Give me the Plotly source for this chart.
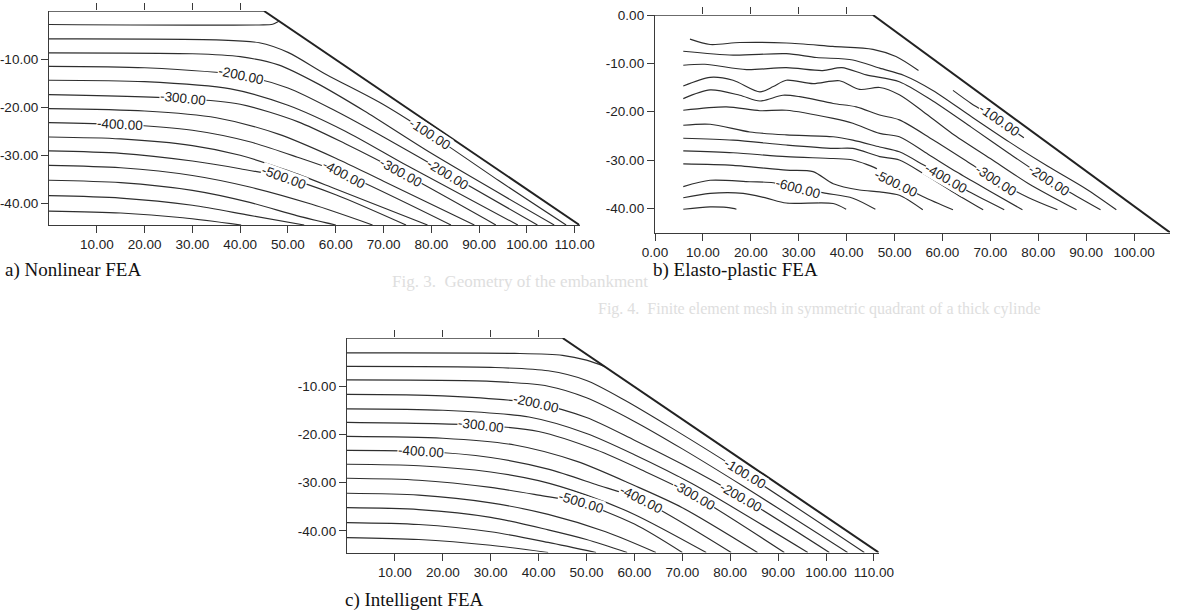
import plotly.graph_objects as go

W, H = 1179, 611

# ---------------- geometry (embankment outlines) ----------------
A_TOP_X, A_TOP_Y = [0, 45], [0, 0]
A_SLOPE_X, A_SLOPE_Y = [45, 111], [0, -44.5]
B_TOP_X, B_TOP_Y = [0, 45.5], [0, 0]
B_SLOPE_X, B_SLOPE_Y = [45.5, 107.5], [0, -45]
C_TOP_X, C_TOP_Y = [0, 45], [0, 0]
C_SLOPE_X, C_SLOPE_Y = [45, 111], [0, -44.5]

# ---------------- a) Nonlinear FEA contour lines ----------------
A_X = [
    [0, 44, 46.8, 48.2],
    [0, 35, 44, 50, 58, 69.5, 79.8, 94, 108.2],
    [0, 30, 40, 48, 56, 66, 80, 105.7],
    [0, 20, 40.2, 50, 60, 70, 83.4, 102.2],
    [0, 20, 38, 50, 62, 75, 98.1],
    [0, 28, 40, 52, 62, 73.6, 93.5],
    [0, 20, 35, 48, 60, 70, 89],
    [0, 15, 30, 42, 52, 61.8, 84.1],
    [0, 15, 30, 40, 50, 60, 79.2],
    [0, 15, 30, 40, 49.2, 60, 74.7],
    [0, 15, 30, 42, 55, 67.7],
    [0, 15, 30, 42, 52, 60],
    [0, 15, 30, 42, 53.4],
    [0, 15, 28, 40.2],
]
A_Y = [
    [-2.8, -2.9, -2.75, -2.1],
    [-5.8, -6.0, -6.6, -8.6, -13.2, -19.2, -25.6, -35.2, -44.5],
    [-8.7, -8.9, -9.5, -11.2, -15.0, -20.8, -29.6, -44.5],
    [-11.5, -11.8, -13.4, -16.0, -20.8, -26.2, -33.8, -44.5],
    [-14.4, -14.7, -16.2, -19.6, -25.0, -32.2, -44.5],
    [-17.4, -18.2, -19.4, -23.0, -27.6, -33.5, -44.5],
    [-20.3, -20.8, -22.2, -25.6, -30.6, -35.4, -44.5],
    [-23.2, -23.6, -24.8, -27.2, -30.4, -33.9, -44.5],
    [-26.2, -26.6, -28.0, -30.0, -33.2, -37.0, -44.5],
    [-29.1, -29.6, -31.2, -32.8, -34.6, -38.2, -44.5],
    [-32.1, -32.6, -34.2, -36.6, -40.2, -44.5],
    [-35.2, -35.7, -37.3, -39.8, -42.6, -44.5],
    [-38.4, -38.9, -40.4, -42.5, -44.5],
    [-41.6, -42.0, -43.0, -44.5],
]
A_LABEL_TEXT = ["-100.00", "-200.00", "-300.00", "-400.00", "-500.00",
                "-200.00", "-300.00", "-400.00"]
A_LABEL_X = [79.8, 83.4, 73.6, 61.8, 49.2, 40.2, 28.1, 14.9]
A_LABEL_Y = [-25.6, -33.9, -33.5, -33.9, -34.6, -13.5, -18.2, -23.6]
A_LABEL_ANGLE = [33, 32, 29, 28, 20, 12, 6, 3]

# ---------------- b) Elasto-plastic FEA contour lines ----------------
B_X = [
    [7.3, 11.5, 17.7, 27.4, 37.1, 45.5, 50.3, 55.0],
    [5.9, 16.3, 27.4, 33.7, 41.3, 46.9, 52, 58, 66, 74, 82, 90, 96.3],
    [5.9, 10.4, 19.1, 27.4, 35, 39, 44.1, 51, 58, 66, 74, 82.3, 88, 93],
    [5.9, 11.5, 16.3, 21.9, 24.7, 27.4, 33.0, 38.5, 42.7, 46.9, 51.0, 56, 62, 70, 78, 88],
    [5.9, 11.5, 17.7, 21.9, 26.7, 30.2, 37.2, 42.0, 46.9, 51.0, 58, 65, 71.2, 78, 84],
    [5.9, 14.9, 21.9, 27.4, 37.2, 41.3, 46.9, 51.0, 57, 63, 70, 76.7],
    [5.9, 11.5, 19.8, 27.4, 37.2, 41.3, 46.9, 51.0, 56, 60.8, 66, 72.9],
    [5.9, 16.3, 27.4, 37.2, 41.3, 46.9, 51.0, 56, 62, 68.5],
    [5.9, 16.3, 27.4, 37.2, 41.3, 46.9, 50.3, 56, 62.2],
    [5.9, 16.3, 27.4, 33.0, 37.2, 42.7, 46.9, 51.0, 55.9],
    [5.9, 11.5, 19.8, 24.7, 29.9, 35.8, 41.3, 46.0],
    [5.9, 11.5, 18.4, 23.3, 27.4, 37.2, 39.9],
    [5.9, 11.5, 16.3, 17.0],
    [62.2, 66, 71.9, 77],
]
B_Y = [
    [-5.0, -6.1, -5.7, -5.8, -6.5, -7.1, -8.6, -11.5],
    [-7.5, -8.3, -8.0, -8.8, -9.3, -11.0, -12.5, -15.6, -21.0, -26.3, -31.3, -36.0, -40.3],
    [-10.4, -10.2, -11.3, -10.9, -11.5, -10.9, -12.4, -13.8, -17.8, -23.2, -28.7, -34.2, -37.5, -40.3],
    [-14.7, -12.9, -13.5, -15.9, -14.8, -13.5, -14.2, -13.6, -15.4, -15.0, -16.5, -20.0, -24.5, -29.7, -34.9, -40.3],
    [-17.3, -15.5, -16.6, -17.8, -16.6, -16.9, -18.3, -19.0, -20.7, -21.7, -25.8, -30.2, -34.2, -37.8, -40.3],
    [-19.7, -19.0, -19.8, -19.7, -21.4, -22.4, -24.5, -25.2, -28.8, -32.5, -36.5, -40.3],
    [-22.8, -22.6, -24.2, -24.8, -25.2, -25.9, -27.3, -28.3, -31.0, -33.8, -36.8, -40.3],
    [-25.5, -25.9, -26.9, -27.6, -27.6, -29.3, -30.0, -32.8, -36.5, -40.3],
    [-28.1, -28.5, -29.3, -29.7, -30.0, -32.1, -34.6, -37.6, -40.3],
    [-30.8, -31.1, -32.1, -32.4, -34.9, -36.2, -36.6, -37.3, -40.3],
    [-35.5, -34.2, -34.5, -34.7, -35.9, -36.9, -37.9, -40.2],
    [-37.8, -36.9, -36.9, -37.9, -38.9, -39.0, -40.2],
    [-40.2, -39.7, -40.0, -40.2],
    [-15.6, -18.3, -21.9, -25.4],
]
B_LABEL_TEXT = ["-100.00", "-200.00", "-300.00", "-400.00", "-500.00", "-600.00"]
B_LABEL_X = [71.9, 82.3, 71.2, 60.8, 50.3, 29.9]
B_LABEL_Y = [-21.9, -34.2, -34.2, -33.8, -34.8, -35.9]
B_LABEL_ANGLE = [35, 33, 33, 30, 26, 15]

# ---------------- c) Intelligent FEA contour lines ----------------
C_X = [
    [0, 35, 45, 50, 54],
    [0, 30, 42, 50, 58, 68, 83, 108],
    [0, 30, 42, 50, 60, 70, 82.5, 104.5],
    [0, 20, 39.5, 50, 60, 70, 82.3, 100.7],
    [0, 20, 38, 50, 60, 72, 96.2],
    [0, 28, 40, 52, 62, 72.5, 91.3],
    [0, 20, 35, 48, 60, 70, 85.7],
    [0, 15.4, 30, 42, 52, 61.4, 80.2],
    [0, 15, 30, 40, 50, 60, 75],
    [0, 15, 30, 40, 48.9, 60, 70],
    [0, 15, 30, 42, 54, 64.5],
    [0, 15, 30, 42, 50, 58.5],
    [0, 15, 30, 42, 52],
    [0, 15, 30, 42],
]
C_Y = [
    [-3.1, -3.2, -3.6, -4.6, -6.0],
    [-5.9, -6.1, -6.8, -8.8, -12.9, -18.8, -28.1, -44.5],
    [-8.7, -9.0, -10.0, -12.4, -17.3, -23.0, -30.6, -44.5],
    [-11.7, -12.0, -13.6, -16.5, -21.2, -26.2, -33.0, -44.5],
    [-14.7, -15.0, -16.4, -19.8, -24.2, -30.2, -44.5],
    [-17.5, -18.1, -19.4, -23.2, -27.6, -32.7, -44.5],
    [-20.4, -20.8, -22.2, -25.6, -30.6, -35.2, -44.5],
    [-23.3, -23.5, -24.8, -27.2, -30.4, -33.6, -44.5],
    [-26.2, -26.5, -27.8, -29.6, -32.6, -36.6, -44.5],
    [-29.1, -29.5, -31.0, -32.6, -34.2, -38.6, -44.5],
    [-32.2, -32.6, -34.2, -36.6, -40.2, -44.5],
    [-35.2, -35.6, -37.2, -39.8, -41.8, -44.5],
    [-38.3, -38.7, -40.2, -42.4, -44.5],
    [-41.4, -41.8, -43.0, -44.5],
]
C_LABEL_TEXT = ["-200.00", "-300.00", "-400.00", "-500.00",
                "-400.00", "-300.00", "-200.00", "-100.00"]
C_LABEL_X = [39.5, 28.0, 15.4, 48.9, 61.4, 72.5, 82.3, 83.0]
C_LABEL_Y = [-13.6, -18.1, -23.5, -34.2, -33.6, -32.7, -33.0, -28.1]
C_LABEL_ANGLE = [13, 7, 4, 17, 27, 30, 30, 31]

# ---------------- axes ticks ----------------
AC_XTICKS = [10, 20, 30, 40, 50, 60, 70, 80, 90, 100, 110]
AC_XTEXT = ["10.00", "20.00", "30.00", "40.00", "50.00", "60.00", "70.00",
            "80.00", "90.00", "100.00", "110.00"]
AC_YTICKS = [-10, -20, -30, -40]
AC_YTEXT = ["-10.00", "-20.00", "-30.00", "-40.00"]
B_XTICKS = [0, 10, 20, 30, 40, 50, 60, 70, 80, 90, 100]
B_XTEXT = ["0.00", "10.00", "20.00", "30.00", "40.00", "50.00", "60.00",
           "70.00", "80.00", "90.00", "100.00"]
B_YTICKS = [0, -10, -20, -30, -40]
B_YTEXT = ["0.00", "-10.00", "-20.00", "-30.00", "-40.00"]
TOP_TICKS = [10, 20, 30, 40]

CAPTIONS = ["a) Nonlinear FEA", "b) Elasto-plastic FEA", "c) Intelligent FEA"]

# faint show-through captions of the scanned page
GHOST_TEXT = [
    "Fig. 3.  Geometry of the embankment",
    "Fig. 4.  Finite element mesh in symmetric quadrant of a thick cylinde",
]

LINE_COLOR = "#2e2e2e"
FRAME_COLOR = "#3a3a3a"


def px_x(p):
    return p / W


def px_y(p):
    return 1 - p / H


panels = {
    # name: (xaxis, yaxis, topaxis, xdomain px, ydomain px(top,bottom), xrange, yrange)
    "a": ("x", "y", "x4", (49, 579.5), (11, 225), [0, 111], [-44.5, 0]),
    "b": ("x2", "y2", "x5", (655, 1170), (15, 232.5), [0, 107.5], [-45, 0]),
    "c": ("x3", "y3", "x6", (347, 878.7), (338, 552.5), [0, 111], [-44.5, 0]),
}

fig = go.Figure()


def add_lines(xs_list, ys_list, xa, ya):
    for xs, ys in zip(xs_list, ys_list):
        fig.add_trace(go.Scatter(
            x=xs, y=ys, xaxis=xa, yaxis=ya, mode="lines",
            line=dict(color=LINE_COLOR, width=1.15, shape="spline", smoothing=0.8),
            hoverinfo="skip", showlegend=False))


def add_outline(tx, ty, sx, sy, xa, ya):
    fig.add_trace(go.Scatter(x=tx, y=ty, xaxis=xa, yaxis=ya, mode="lines",
                             line=dict(color=FRAME_COLOR, width=1.3),
                             cliponaxis=False, hoverinfo="skip", showlegend=False))
    fig.add_trace(go.Scatter(x=sx, y=sy, xaxis=xa, yaxis=ya, mode="lines",
                             line=dict(color="#222222", width=2.0),
                             cliponaxis=False, hoverinfo="skip", showlegend=False))


add_lines(A_X, A_Y, "x", "y")
add_outline(A_TOP_X, A_TOP_Y, A_SLOPE_X, A_SLOPE_Y, "x", "y")
add_lines(B_X, B_Y, "x2", "y2")
add_outline(B_TOP_X, B_TOP_Y, B_SLOPE_X, B_SLOPE_Y, "x2", "y2")
add_lines(C_X, C_Y, "x3", "y3")
add_outline(C_TOP_X, C_TOP_Y, C_SLOPE_X, C_SLOPE_Y, "x3", "y3")

# invisible traces so that the top tick axes are drawn
for name, (xa, ya, ta, xd, yd, xr, yr) in panels.items():
    fig.add_trace(go.Scatter(x=[xr[0]], y=[yr[0]], xaxis=ta, yaxis=ya, mode="markers",
                             marker=dict(opacity=0), hoverinfo="skip", showlegend=False))

tick_font = dict(family="Liberation Sans, Arial", size=13.5, color="#222222")
layout = dict(width=W, height=H,
              margin=dict(l=0, r=0, t=0, b=0, pad=0, autoexpand=False),
              paper_bgcolor="white", plot_bgcolor="rgba(0,0,0,0)", showlegend=False)

tick_sets = {
    "a": (AC_XTICKS, AC_XTEXT, AC_YTICKS, AC_YTEXT),
    "b": (B_XTICKS, B_XTEXT, B_YTICKS, B_YTEXT),
    "c": (AC_XTICKS, AC_XTEXT, AC_YTICKS, AC_YTEXT),
}

for name, (xa, ya, ta, xd, yd, xr, yr) in panels.items():
    xt, xtt, yt, ytt = tick_sets[name]
    xkey = "xaxis" + xa[1:]
    ykey = "yaxis" + ya[1:]
    tkey = "xaxis" + ta[1:]
    layout[xkey] = dict(domain=[px_x(xd[0]), px_x(xd[1])], range=xr, anchor=ya,
                        showline=True, linecolor=FRAME_COLOR, linewidth=1.3,
                        ticks="outside", ticklen=7, tickwidth=1.1, tickcolor=FRAME_COLOR,
                        tickvals=xt, ticktext=xtt, tickfont=tick_font, automargin=False,
                        showgrid=False, zeroline=False, fixedrange=True)
    layout[ykey] = dict(domain=[px_y(yd[1]), px_y(yd[0])], range=yr, anchor=xa,
                        showline=True, linecolor=FRAME_COLOR, linewidth=1.3,
                        ticks="outside", ticklen=7, tickwidth=1.1, tickcolor=FRAME_COLOR,
                        tickvals=yt, ticktext=ytt, tickfont=tick_font, automargin=False,
                        showgrid=False, zeroline=False, fixedrange=True)
    layout[tkey] = dict(overlaying=xa, side="top", range=xr, anchor=ya,
                        showline=False, ticks="outside", ticklen=7, tickwidth=1.1,
                        tickcolor=FRAME_COLOR, tickvals=TOP_TICKS, showticklabels=False,
                        automargin=False, showgrid=False, zeroline=False, fixedrange=True)

fig.update_layout(**layout)

annotations = []

ghost_pos = [(390, 281, 17), (596, 309, 16)]
for txt, (gx, gy, gs) in zip(GHOST_TEXT, ghost_pos):
    annotations.append(dict(text=txt, xref="paper", yref="paper",
                            x=px_x(gx), y=px_y(gy), xanchor="left", yanchor="middle",
                            showarrow=False,
                            font=dict(family="Liberation Serif, Times New Roman",
                                      size=gs, color="#dedede")))

label_font = dict(family="Liberation Sans, Arial", size=13.5, color="#222222")


def add_labels(texts, xs, ys, angles, xa, ya):
    for t, x, y, a in zip(texts, xs, ys, angles):
        annotations.append(dict(text=t, x=x, y=y, xref=xa, yref=ya, showarrow=False,
                                textangle=a, font=label_font, bgcolor="white",
                                borderpad=0, xanchor="center", yanchor="middle"))


add_labels(A_LABEL_TEXT, A_LABEL_X, A_LABEL_Y, A_LABEL_ANGLE, "x", "y")
add_labels(B_LABEL_TEXT, B_LABEL_X, B_LABEL_Y, B_LABEL_ANGLE, "x2", "y2")
add_labels(C_LABEL_TEXT, C_LABEL_X, C_LABEL_Y, C_LABEL_ANGLE, "x3", "y3")

cap_pos = [(3, 270), (651, 270), (343, 600)]
for txt, (cx, cy) in zip(CAPTIONS, cap_pos):
    annotations.append(dict(text=txt, xref="paper", yref="paper",
                            x=px_x(cx), y=px_y(cy), xanchor="left", yanchor="middle",
                            showarrow=False,
                            font=dict(family="Liberation Serif, Times New Roman",
                                      size=19, color="#111111")))

fig.update_layout(annotations=annotations)
fig.write_html("out.html")
